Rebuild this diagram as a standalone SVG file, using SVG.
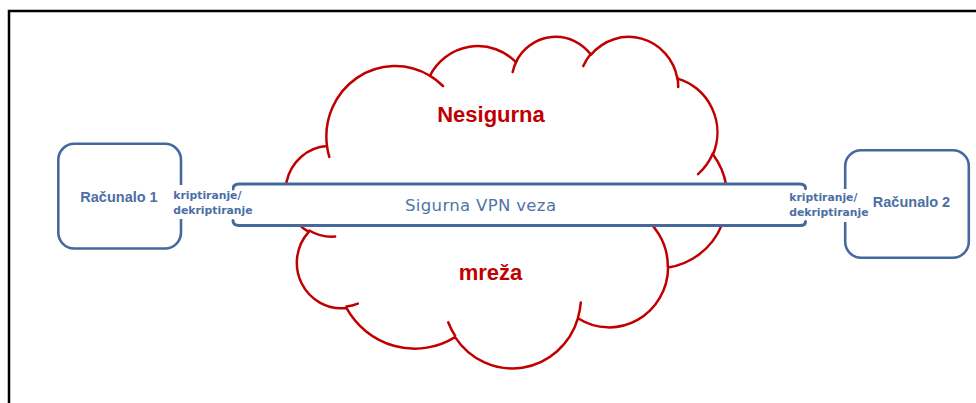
<svg xmlns="http://www.w3.org/2000/svg" width="976" height="403" viewBox="0 0 976 403">
  <style>
    .frame { fill: none; stroke: #000; stroke-width: 2.5; }
    .cloud { fill: #fff; stroke: #c00000; stroke-width: 2.5; stroke-linejoin: round; }
    .curl { fill: none; stroke: #c00000; stroke-width: 2.5; stroke-linecap: round; }
    .cloud-text { font-family: "Liberation Sans", Arial, sans-serif; font-weight: bold; font-size: 22px; fill: #c00000; text-anchor: middle; }
    .pipe-fill { fill: #fff; stroke: none; }
    .pipe-edge { fill: none; stroke: #46699c; stroke-width: 3; stroke-linecap: round; }
    .pipe-text { font-family: "DejaVu Sans", Verdana, sans-serif; font-size: 16.5px; fill: #4f74a8; }
    .box { fill: #fff; stroke: #46699c; stroke-width: 2.6; }
    .box-text { font-family: "Liberation Sans", Arial, sans-serif; font-weight: bold; font-size: 14.5px; fill: #4b6fa3; text-anchor: middle; }
    .crypto-bg { fill: #fff; stroke: none; }
    .crypto-text { font-family: "DejaVu Sans", Verdana, sans-serif; font-weight: bold; font-size: 10.8px; fill: #4b6fa3; }
  </style>

  <!-- outer frame (runs off the right and bottom edges) -->
  <path class="frame" d="M9,404 V11 H977"/>

  <!-- untrusted network cloud -->
  <g id="cloud">
    <path class="cloud" d="M327.0,146.1
      A68.75,70.5 0 0 1 429.9,75.7
      A54.29,55.75 0 0 1 515.9,62.1
      A44.44,45.61 0 0 1 591.0,54.8
      A49.44,50.6 0 0 1 677.4,78.6
      A54.29,55.8 0 0 1 713.0,154.4
      A68.97,70.74 0 0 1 668.1,267.5
      A58.89,60.36 0 0 1 578.0,318.2
      A68.74,70.7 0 0 1 455.1,337.1
      A78.59,80.89 0 0 1 346.4,307.9
      A44.38,45.4 0 0 1 308.8,231.8
      A44.23,45.61 0 0 1 327.0,146.1 Z"/>
    <path class="curl" d="M335.1,236.6 A44.23,45.61 0 0 1 309.3,230.5
      M357.8,303.6 A44.38,45.4 0 0 1 346.5,306.5
      M455.1,335.7 A68.74,70.7 0 0 1 448.2,322.3
      M580.8,302.4 A68.74,70.7 0 0 1 578.1,317.1
      M634.7,211.9 A58.89,60.36 0 0 1 667.8,266.7
      M712.8,153.6 A54.29,55.8 0 0 1 698.1,174.1
      M677.4,77.4 A49.44,50.6 0 0 1 678.2,87.1
      M583.3,66.1 A49.44,50.6 0 0 1 590.9,53.8
      M512.7,72.0 A44.44,45.61 0 0 1 516.4,61.4
      M429.8,75.6 A68.75,70.5 0 0 1 443.0,86.0
      M329.3,156.9 A68.75,70.5 0 0 1 327.0,146.1"/>
    <text class="cloud-text" x="491" y="122">Nesigurna</text>
    <text class="cloud-text" x="490.5" y="280">mreža</text>
  </g>

  <!-- secure tunnel between the two computers -->
  <g id="connectors">
    <g id="vpn-tunnel">
      <rect class="pipe-fill" x="233" y="184" width="572.5" height="41.5"/>
      <path class="pipe-edge" d="M233,189 Q233,184 239,184 H800 Q805.5,184 805.5,188.5"/>
      <path class="pipe-edge" d="M233,220.5 Q233,225.5 239,225.5 H800 Q805.5,225.5 805.5,221.5"/>
      <text class="pipe-text" x="405" y="210.5" textLength="151" lengthAdjust="spacing">Sigurna VPN veza</text>
    </g>
  </g>

  <!-- computer 1 -->
  <g id="racunalo-1">
    <rect class="box" x="58.3" y="143.8" width="122.7" height="104.7" rx="16"/>
    <text class="box-text" x="119" y="201.5">Računalo 1</text>
    <rect class="crypto-bg" x="170" y="185" width="62" height="34"/>
    <text class="crypto-text" x="173.3" y="199.3">kriptiranje/</text>
    <text class="crypto-text" x="173.3" y="213.5">dekriptiranje</text>
  </g>

  <!-- computer 2 -->
  <g id="racunalo-2">
    <rect class="box" x="845.2" y="150.2" width="123.6" height="107.6" rx="16"/>
    <text class="box-text" x="911.5" y="207.3">Računalo 2</text>
    <rect class="crypto-bg" x="807" y="189" width="62" height="33"/>
    <text class="crypto-text" x="789.3" y="200.7">kriptiranje/</text>
    <text class="crypto-text" x="789.3" y="216">dekriptiranje</text>
  </g>
</svg>
